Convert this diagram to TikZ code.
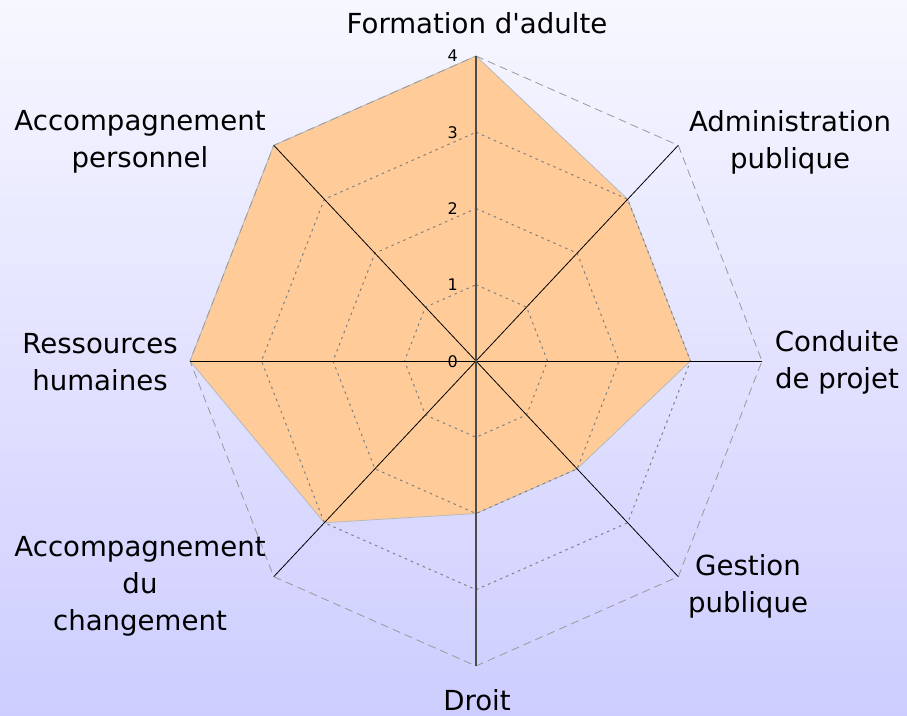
\documentclass[tikz,border=0pt]{standalone}
\usepackage{fontspec}
\setmainfont{DejaVu Sans}[Ligatures=TeXOff]
\definecolor{bgtop}{RGB}{247,247,255}
\definecolor{bgbot}{RGB}{205,205,255}
\definecolor{fillor}{RGB}{255,204,153}
\begin{document}
\begin{tikzpicture}[x=1pt,y=-1pt,
  lab/.style={font=\fontsize{27.6}{37}\selectfont, align=center, inner sep=0pt},
  tick/.style={font=\fontsize{16}{18}\selectfont, anchor=east, inner sep=0pt},
  innergrid/.style={draw=gray, line width=1pt, dash pattern=on 2.5pt off 4pt},
  outergrid/.style={draw=gray!80, line width=0.8pt, dash pattern=on 8pt off 5pt},
  axisline/.style={draw=black, line width=0.8pt},
  vaxisline/.style={draw=black!70, line width=1.1pt},
  area/.style={fill=fillor, draw=gray!55, line width=0.8pt}]
\shade[top color=bgtop, bottom color=bgbot] (0,0) rectangle (907,715);
\useasboundingbox (0,0) rectangle (907,715);
\coordinate (C) at (476,361);
\foreach \i in {0,...,7} {
  \foreach \v in {1,...,4} {
    \coordinate (p\i-\v) at ({476+71.5*\v*cos(90-45*\i)},{361-76.25*\v*sin(90-45*\i)});
  }
}
% data area
\path[area] (p0-4) -- (p1-3) -- (p2-3) -- (p3-2) -- (p4-2) -- (p5-3) -- (p6-4) -- (p7-4) -- cycle;
% grid
\foreach \v in {1,2,3} {
  \draw[innergrid] (p0-\v) -- (p1-\v) -- (p2-\v) -- (p3-\v) -- (p4-\v) -- (p5-\v) -- (p6-\v) -- (p7-\v) -- cycle;
}
\draw[outergrid] (p0-4) -- (p1-4) -- (p2-4) -- (p3-4) -- (p4-4) -- (p5-4) -- (p6-4) -- (p7-4) -- cycle;
% axes
\foreach \i in {1,2,3,5,6,7} { \draw[axisline] (C) -- (p\i-4); }
\draw[vaxisline] (C) -- (p0-4);
\draw[vaxisline] (C) -- (p4-4);
% ticks
\node[tick] (t0) at (458,362) {0};
\foreach \v in {1,...,4} { \node[tick] (t\v) at (458,{361-76.25*\v}) {\v}; }
% labels
\node[lab] (l0) at (477,23) {Formation d'adulte};
\node[lab] (l1) at (790,142) {Administration\\publique};
\node[lab] (l2) at (837,362) {Conduite\\de projet};
\node[lab] (l3) at (748,586) {Gestion\\publique};
\node[lab] (l4) at (477,700) {Droit};
\node[lab] (l5) at (140,586) {Accompagnement\\du\\changement};
\node[lab] (l6) at (100,362) {Ressources\\humaines};
\node[lab] (l7) at (140,142) {Accompagnement\\personnel};
\end{tikzpicture}
\end{document}
